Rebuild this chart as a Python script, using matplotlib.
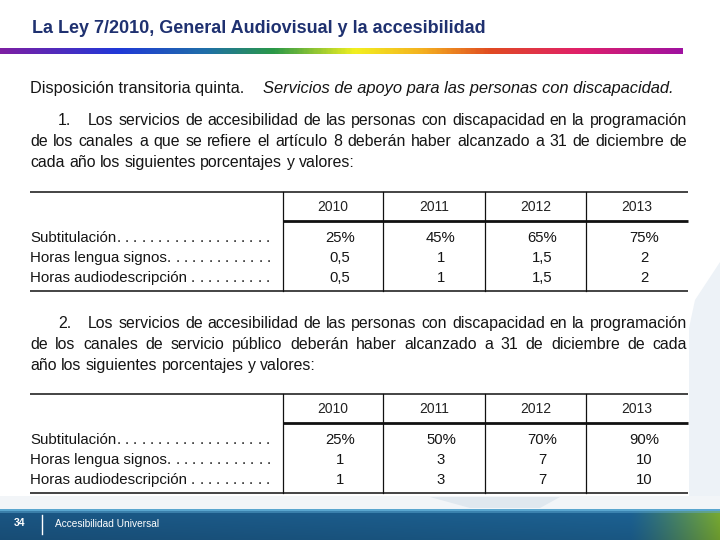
import matplotlib
matplotlib.use('Agg')
import matplotlib.pyplot as plt
import numpy as np
from matplotlib import font_manager as fm
from matplotlib.font_manager import FontProperties
from matplotlib.colors import LinearSegmentedColormap, to_rgb
from matplotlib.patches import Polygon, Rectangle

# ---------------- data ----------------
title = "La Ley 7/2010, General Audiovisual y la accesibilidad"
heading_normal = "Disposición transitoria quinta."
heading_italic = "Servicios de apoyo para las personas con discapacidad."
para1_num = "1."
para1_lines = [
    "Los servicios de accesibilidad de las personas con discapacidad en la programación",
    "de los canales a que se refiere el artículo 8 deberán haber alcanzado a 31 de diciembre de",
    "cada año los siguientes porcentajes y valores:",
]
para2_num = "2."
para2_lines = [
    "Los servicios de accesibilidad de las personas con discapacidad en la programación",
    "de los canales de servicio público deberán haber alcanzado a 31 de diciembre de cada",
    "año los siguientes porcentajes y valores:",
]
years = ["2010", "2011", "2012", "2013"]
row_labels = ["Subtitulación", "Horas lengua signos", "Horas audiodescripción"]
t1_subtitulacion = ["25%", "45%", "65%", "75%"]
t1_lengua_signos = ["0,5", "1", "1,5", "2"]
t1_audiodescripcion = ["0,5", "1", "1,5", "2"]
t2_subtitulacion = ["25%", "50%", "70%", "90%"]
t2_lengua_signos = ["1", "3", "7", "10"]
t2_audiodescripcion = ["1", "3", "7", "10"]
footer_page = "34"
footer_text = "Accesibilidad Universal"

# ---------------- setup ----------------
W, H = 720, 540
fig = plt.figure(figsize=(7.2, 5.4), dpi=100)
ax = fig.add_axes([0, 0, 1, 1])
ax.set_xlim(0, W)
ax.set_ylim(H, 0)
ax.axis('off')
fig.canvas.draw()
renderer = fig.canvas.get_renderer()

names = {f.name for f in fm.fontManager.ttflist}
NARROW = 'Liberation Sans Narrow' if 'Liberation Sans Narrow' in names else 'Liberation Sans'
SANS = 'Liberation Sans'


def fp(family, size, weight='normal', style='normal'):
    return FontProperties(family=family, size=size, weight=weight, style=style)


def width(s, prop):
    w, h, d = renderer.get_text_width_height_descent(s, prop, ismath=False)
    return w


def fit(s, family, target, weight='normal', style='normal'):
    w = width(s, fp(family, 10, weight, style))
    return 10 * target / w


TEXT = '#151515'

# ---------------- background shapes ----------------
ax.add_patch(Polygon([[695, 300], [720, 262], [720, 505], [689, 505], [689, 328]],
                     closed=True, facecolor='#edf2f7', edgecolor='none', zorder=0))
ax.add_patch(Rectangle((0, 496), W, 14, facecolor='#f2f5f8', edgecolor='none', zorder=0))
ax.add_patch(Polygon([[430, 497], [560, 497], [540, 508], [470, 508]],
                     closed=True, facecolor='#e0e8ef', edgecolor='none', zorder=0))

# ---------------- title ----------------
ts = fit(title, NARROW, 454, weight='bold')
ax.text(32, 33, title, fontproperties=fp(NARROW, ts, 'bold'), color='#1f3170',
        ha='left', va='baseline')

# rainbow bar
stops = [(0.0, '#7d1fa3'), (0.17, '#2038d8'), (0.3, '#1f6fa8'), (0.4, '#2a9848'),
         (0.52, '#f2f020'), (0.62, '#f4b020'), (0.72, '#e04a22'), (0.85, '#e0206a'),
         (1.0, '#a012a0')]
cmap = LinearSegmentedColormap.from_list('rb', stops)
grad = np.linspace(0, 1, 400).reshape(1, -1)
ax.imshow(grad, cmap=cmap, aspect='auto', extent=(0, 683, 54, 48), zorder=2)

# ---------------- body text ----------------
bs = fit(heading_normal, NARROW, 215)
body = fp(NARROW, bs)
its = fit(heading_italic, NARROW, 413, style='italic')
ax.text(30, 93, heading_normal, fontproperties=body, color=TEXT, ha='left', va='baseline')
ax.text(263, 93, heading_italic, fontproperties=fp(NARROW, its, style='italic'),
        color=TEXT, ha='left', va='baseline')


def justified(line, x0, x1, y, prop, justify=True):
    words = line.split()
    ws = [width(w, prop) for w in words]
    if justify and len(words) > 1:
        gap = (x1 - x0 - sum(ws)) / (len(words) - 1)
    else:
        gap = width("a a", prop) - width("aa", prop)
    x = x0
    for w, wd in zip(words, ws):
        ax.text(x, y, w, fontproperties=prop, color=TEXT, ha='left', va='baseline')
        x += wd + gap


longest = max(width(para1_lines[1], body), width(para2_lines[1], body))
if longest > 657 * 0.99:
    bs = bs * 657 * 0.97 / longest
    body = fp(NARROW, bs)


def paragraph(num, lines, y0):
    ax.text(58, y0, num, fontproperties=body, color=TEXT, ha='left', va='baseline')
    justified(lines[0], 88, 687, y0, body)
    justified(lines[1], 30, 687, y0 + 21, body)
    justified(lines[2], 30, 687, y0 + 42, body, justify=False)


paragraph(para1_num, para1_lines, 125)
paragraph(para2_num, para2_lines, 328)

# ---------------- tables ----------------
lab = fp(SANS, fit("Horas audiodescripción", SANS, 157))
hdr = fp(SANS, fit("2010", SANS, 31))
val = fp(SANS, fit("25%", SANS, 30))
col_edges = [283, 383, 485, 586, 688]


def table(top, rows_vals):
    hline = top + 29
    bottom = top + 99
    ax.plot([30, 688], [top, top], color='#111111', lw=1.1, solid_capstyle='butt')
    ax.plot([283, 688], [hline, hline], color='#111111', lw=2.0, solid_capstyle='butt')
    ax.plot([30, 688], [bottom, bottom], color='#111111', lw=1.1, solid_capstyle='butt')
    for xe in col_edges[:-1]:
        ax.plot([xe, xe], [top, bottom], color='#111111', lw=0.9)
    for i, yr in enumerate(years):
        cx = (col_edges[i] + col_edges[i + 1]) / 2
        ax.text(cx, top + 19, yr, fontproperties=hdr, color='#222222',
                ha='center', va='baseline')
    for r, (label, vals) in enumerate(zip(row_labels, rows_vals)):
        y = top + 50 + r * 20
        ax.text(30, y, label, fontproperties=lab, color=TEXT, ha='left', va='baseline')
        start = 30 + width(label, lab) + (4 if r == 2 else 0)
        for xd in np.arange(start, 268, 8.3):
            ax.text(xd, y, ".", fontproperties=lab, color=TEXT, ha='left', va='baseline')
        for i, v in enumerate(vals):
            cx = (col_edges[i] + col_edges[i + 1]) / 2 + 7
            ax.text(cx, y, v, fontproperties=val, color=TEXT, ha='center', va='baseline')


table(192, [t1_subtitulacion, t1_lengua_signos, t1_audiodescripcion])
table(394, [t2_subtitulacion, t2_lengua_signos, t2_audiodescripcion])

# ---------------- footer ----------------
fh = 31
xs = np.linspace(0, 1, W)
ys = np.linspace(0, 1, fh)
blue_l = np.array(to_rgb('#1b5785'))
blue_r = np.array(to_rgb('#1d6496'))
green = np.array(to_rgb('#7aad32'))
img = np.zeros((fh, W, 3))
for j in range(W):
    t = xs[j]
    base = blue_l * (1 - t) + blue_r * t
    g = np.clip((j - 630) / 90.0, 0, 1) ** 1.2
    base = base * (1 - g) + green * g
    img[:, j, :] = base
shade = (1.0 - 0.12 * ys)[:, None, None]
img = img * shade
light = np.array(to_rgb('#5aa6cf'))
img[0:2, :, :] = light
img[2:4, :, :] = 0.5 * light + 0.5 * img[2:4, :, :]
ax.imshow(np.clip(img, 0, 1), aspect='auto', extent=(0, W, H, 509), zorder=3,
          interpolation='bilinear')
ax.text(20, 523, footer_page, fontproperties=fp(SANS, 7.5, 'bold'), color='white',
        ha='center', va='center', zorder=4)
ax.plot([42, 42], [515, 534], color='white', lw=1.0, zorder=4)
ax.text(55, 524, footer_text, fontproperties=fp(SANS, fit(footer_text, SANS, 105)),
        color='white', ha='left', va='center', zorder=4)

ax.set_xlim(0, W)
ax.set_ylim(H, 0)
fig.savefig('out.png', dpi=100)
